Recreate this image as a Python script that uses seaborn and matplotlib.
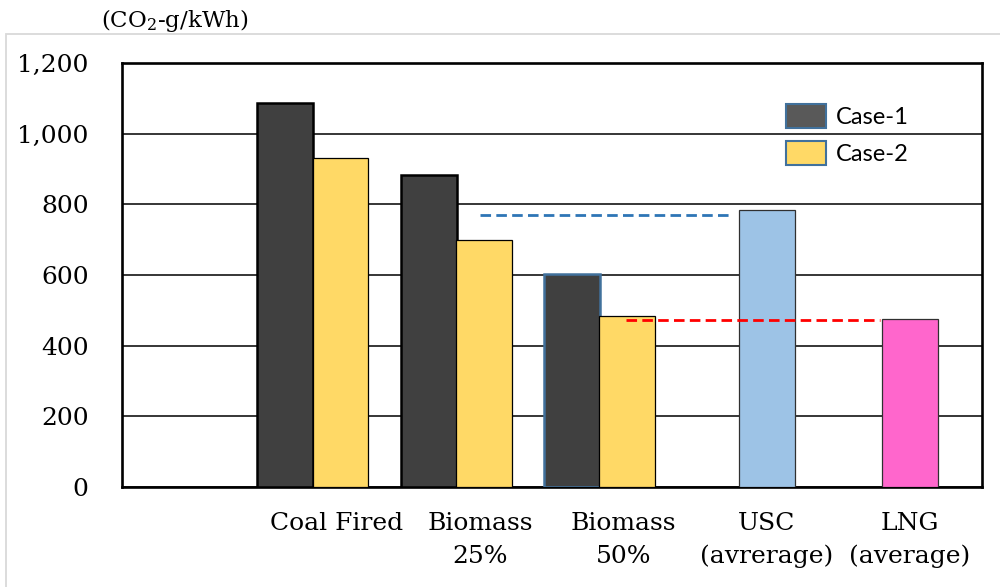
import matplotlib
matplotlib.use("Agg")
import matplotlib.pyplot as plt
from matplotlib.patches import Patch, Rectangle
import seaborn as sns
import pandas as pd

# ---------------- data ----------------
categories = ["", "Coal Fired", "Biomass\n25%", "Biomass\n50%", "USC\n(avrerage)", "LNG\n(average)"]
case1_cats = ["Coal Fired", "Biomass\n25%", "Biomass\n50%"]
case1_values = [1088, 883, 602]
case2_cats = ["Coal Fired", "Biomass\n25%", "Biomass\n50%"]
case2_values = [933, 699, 485]
ref_cats = ["USC\n(avrerage)", "LNG\n(average)"]
ref_values = [784, 475]
ref_line_values = [770, 472]          # dashed reference levels (USC, LNG)
yticks = [0, 200, 400, 600, 800, 1000, 1200]
ylabel = "(CO$_2$-g/kWh)"
legend_labels = ["Case-1", "Case-2"]

# ---------------- styles / layout ----------------
c_case1 = "#404040"
c_case2 = "#FFD966"
c_ref = ["#9DC3E6", "#FF66CC"]
c_line = ["#2E75B6", "#FF0000"]
off1, off2, off_ref, bw = -0.36, 0.025, 0.0, 0.39
line_spans = [(2.0, 3.76), (3.015, 4.79)]

sns.set_theme(style="white")
plt.rcParams["font.family"] = ["DejaVu Serif"]
plt.rcParams["mathtext.fontset"] = "dejavuserif"
plt.rcParams["text.color"] = "black"

fig = plt.figure(figsize=(10, 5.87), dpi=100)
ax = fig.add_axes([0.122, 0.171, 0.8597, 0.721])

idx = {c: i for i, c in enumerate(categories)}

def draw(cats, vals, off, colors, edge, lw):
    df = pd.DataFrame({"pos": [idx[c] + off for c in cats], "val": vals, "cat": cats})
    n0 = len(ax.patches)
    sns.barplot(data=df, x="pos", y="val", hue="cat", palette=colors,
                native_scale=True, width=bw, errorbar=None, legend=False,
                edgecolor=edge, linewidth=lw, ax=ax, zorder=3, saturation=1)
    return ax.patches[n0:]

p1 = draw(case1_cats, case1_values, off1, [c_case1] * 3, "black", 1.8)
p2 = draw(case2_cats, case2_values, off2, [c_case2] * 3, "black", 0.9)
p3 = draw(ref_cats, ref_values, off_ref, c_ref, "#303030", 0.9)
p1[2].set_edgecolor("#41719C")

for v, (x0, x1), c in zip(ref_line_values, line_spans, c_line):
    ax.hlines(v, x0, x1, colors=c, linewidth=2.0, linestyles=(0, (3.8, 1.9)), zorder=4)

ax.set_xlim(-0.5, 5.5)
ax.set_ylim(0, 1200)
ax.set_yticks(yticks)
ax.set_yticklabels([f"{v:,}" for v in yticks])
ax.set_xticks(range(len(categories)))
ax.set_xticklabels(categories, linespacing=1.55)
ax.tick_params(axis="both", length=0, labelsize=18, colors="black")
ax.tick_params(axis="y", pad=24)
ax.tick_params(axis="x", pad=18)
ax.set_xlabel("")
ax.set_ylabel("")
ax.grid(axis="y", color="black", linewidth=1.1, zorder=0)
ax.set_axisbelow(True)
for s in ax.spines.values():
    s.set_visible(True)
    s.set_color("black")
    s.set_linewidth(1.9)

handles = [Patch(facecolor="#595959", edgecolor="#41719C", linewidth=1.5),
           Patch(facecolor=c_case2, edgecolor="#41719C", linewidth=1.5)]
fig.legend(handles, legend_labels, loc="upper left", bbox_to_anchor=(0.774, 0.843),
           frameon=False, borderpad=0, handlelength=1.7, handleheight=1.2,
           handletextpad=0.42, labelspacing=0.55, labelcolor="black",
           prop={"family": ["Lato", "DejaVu Sans"], "size": 17})

fig.text(0.175, 1 - 20 / 587, ylabel, ha="center", va="center", fontsize=16.5, color="black")

fig.add_artist(Rectangle((0.006, -0.05), 1.2, 1 - 34 / 587 + 0.05, transform=fig.transFigure,
                         fill=False, edgecolor="#d9d9d9", linewidth=1.3, zorder=-1))

fig.savefig("out.png", dpi=100, facecolor="white")
